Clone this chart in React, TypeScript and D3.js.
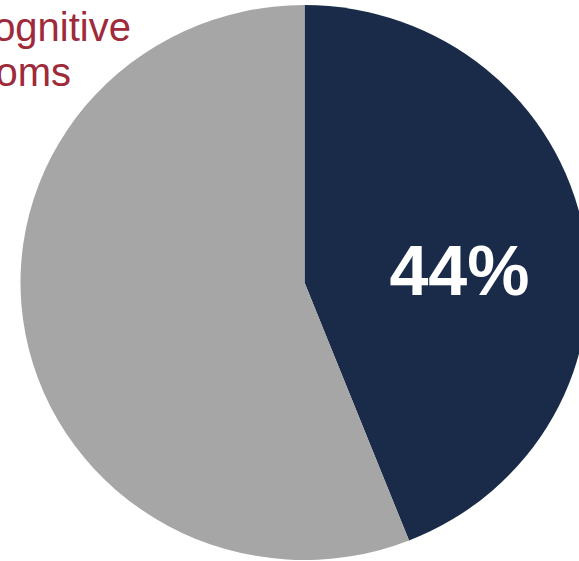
import React from "react";
import * as d3 from "d3";

const categories = ["With cognitive symptoms", "Without cognitive symptoms"];
const values = [44, 56];
const colors = ["#1A2B4A", "#A6A6A6"];
const labelLines = ["cognitive", "symptoms"];

const W = 579;
const H = 561;

export default function App() {
  const cx = 304.5;
  const cy = 282.5;
  const rx = 284;
  const ry = 277.5;
  const pie = d3.pie<number>().sort(null).value((d) => d)(values);
  const arc = d3.arc<d3.PieArcDatum<number>>().innerRadius(0).outerRadius(rx);
  return (
    <svg
      width={W}
      height={H}
      style={{ position: "absolute", left: 0, top: 0, background: "#fff" }}
      fontFamily="Arial, 'Liberation Sans', sans-serif"
    >
      <g transform={`translate(${cx},${cy}) scale(1,${ry / rx})`}>
        {pie.map((p, i) => (
          <path key={categories[i]} d={arc(p) || ""} fill={colors[i]} />
        ))}
      </g>
      <text
        x={459.5}
        y={295}
        textAnchor="middle"
        fill="#fff"
        fontWeight="bold"
        fontSize={70}
      >
        {`${values[0]}%`}
      </text>
      <text x={131} y={40.7} textAnchor="end" fill="#9E2A3A" fontSize={40}>
        {labelLines[0]}
      </text>
      <text x={71} y={86} textAnchor="end" fill="#9E2A3A" fontSize={40}>
        {labelLines[1]}
      </text>
    </svg>
  );
}
